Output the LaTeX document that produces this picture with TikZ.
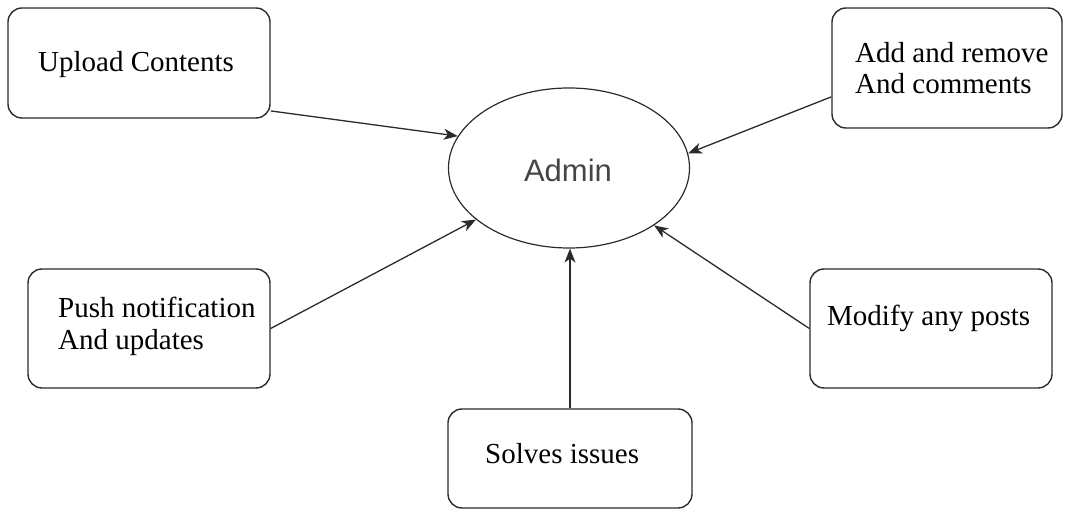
\documentclass[tikz,border=0pt]{standalone}
\usepackage{fontspec}
\setmainfont{Liberation Serif}
\newfontfamily\adminfont{Liberation Sans}
\usetikzlibrary{arrows.meta,shapes.geometric}
\definecolor{edge}{HTML}{2B2B2B}
\definecolor{admintext}{HTML}{454545}
\tikzset{
  roundbox/.style={draw=edge, line width=1.4pt, rounded corners=14pt, fill=white, inner sep=0pt},
  boxtext/.style={anchor=base west, inner sep=0pt, font=\fontsize{29}{31}\selectfont},
  conn/.style={draw=edge, line width=1.3pt, -{Stealth[length=14pt,width=11pt,inset=4pt]}}
}
\begin{document}
\begin{tikzpicture}[x=1pt, y=-1pt]
\useasboundingbox (0,0) rectangle (1065,510);

% central actor
\node[ellipse, draw=edge, line width=1.2pt, minimum width=241pt, minimum height=160pt, inner sep=0pt] (adm) at (569,168) {};
\node[anchor=base, inner sep=0pt, font=\adminfont\fontsize{31}{33}\selectfont, text=admintext] (admtxt) at (568,182) {Admin};

% task boxes
\node[roundbox, minimum width=262pt, minimum height=110pt] (up) at (139,63) {};
\node[roundbox, minimum width=230pt, minimum height=120pt] (add) at (947,68) {};
\node[roundbox, minimum width=242pt, minimum height=119pt] (push) at (149,328.5) {};
\node[roundbox, minimum width=242pt, minimum height=119pt] (mod) at (931,328.5) {};
\node[roundbox, minimum width=244pt, minimum height=99pt] (sol) at (570,458.5) {};

% box labels
\node[boxtext] (uptxt) at (38,72) {Upload Contents};
\node[boxtext] (addtxta) at (855,63) {Add and remove};
\node[boxtext] (addtxtb) at (855,94) {And comments};
\node[boxtext] (pushtxta) at (58,318) {Push notification};
\node[boxtext] (pushtxtb) at (58,350) {And updates};
\node[boxtext] (modtxt) at (827,326) {Modify any posts};
\node[boxtext] (soltxt) at (485,463) {Solves issues};

% connectors into the actor
\draw[conn] (up.-20.9) -- (adm.164.8);
\draw[conn] (add.-166.8) -- (adm.7.4);
\draw[conn] (push.east) -- (adm.209);
\draw[conn] (mod.west) -- (adm.-34.3);
\draw[conn] (sol.north) -- (sol.north |- adm.south);
\end{tikzpicture}
\end{document}
